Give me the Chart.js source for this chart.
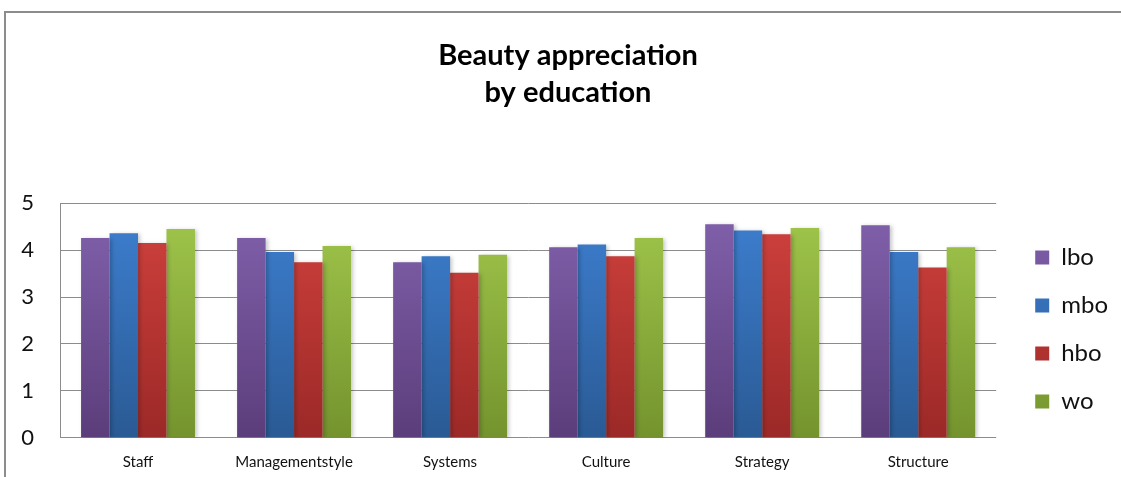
<!DOCTYPE html>
<html>
<head>
<meta charset="utf-8">
<script src="https://cdn.jsdelivr.net/npm/chart.js@4.4.1/dist/chart.umd.min.js"></script>
<style>
  html, body { margin: 0; padding: 0; background: #fff; }
  #frame {
    position: absolute; left: 4px; top: 11px;
    width: 1117px; height: 466px;
    border-top: 2px solid #8c8c8c; border-left: 2px solid #8c8c8c;
  }
  #wrap { width: 1115px; height: 464px; }
</style>
</head>
<body>
<div id="frame"><div id="wrap"><canvas id="myChart"></canvas></div></div>
<script>
const categories = ['Staff', 'Managementstyle', 'Systems', 'Culture', 'Strategy', 'Structure'];
const seriesNames = ['lbo', 'mbo', 'hbo', 'wo'];
const lbo = [4.26, 4.26, 3.74, 4.06, 4.55, 4.53];
const mbo = [4.36, 3.96, 3.87, 4.12, 4.42, 3.96];
const hbo = [4.15, 3.74, 3.52, 3.87, 4.34, 3.63];
const wo  = [4.45, 4.09, 3.90, 4.26, 4.47, 4.06];
const yTicks = [0, 1, 2, 3, 4, 5];

// top / bottom shade for each series
const shades = [
  ['#8262ad', '#5c3d7b'],
  ['#3e80d2', '#2a5a94'],
  ['#d2423e', '#9b2927'],
  ['#a2c84c', '#74932e']
];

function barFill(i) {
  return function (ctx) {
    const area = ctx.chart.chartArea;
    if (!area) return shades[i][0];
    const g = ctx.chart.ctx.createLinearGradient(0, area.top, 0, area.bottom);
    g.addColorStop(0, shades[i][0]);
    g.addColorStop(1, shades[i][1]);
    return g;
  };
}

const values = [lbo, mbo, hbo, wo];
const datasets = seriesNames.map((name, i) => ({
  label: name,
  data: values[i],
  backgroundColor: barFill(i),
  borderWidth: 0,
  categoryPercentage: 0.73,
  barPercentage: 1.0
}));

// soft drop shadow behind the bars
const barShadow = {
  id: 'barShadow',
  beforeDatasetsDraw(chart) {
    const c = chart.ctx;
    c.save();
    c.shadowColor = 'rgba(0,0,0,0.22)';
    c.shadowBlur = 4;
    c.shadowOffsetX = 2;
    c.shadowOffsetY = 1;
  },
  afterDatasetsDraw(chart) {
    chart.ctx.restore();
  }
};

// push the legend block a little lower, next to the middle of the plot
const legendNudge = {
  id: 'legendNudge',
  afterLayout(chart) {
    const lg = chart.legend;
    if (!lg) return;
    lg.top += 9;
    lg.bottom += 9;
  }
};

const config = {
  type: 'bar',
  data: { labels: categories, datasets: datasets },
  plugins: [barShadow, legendNudge],
  options: {
    responsive: true,
    maintainAspectRatio: false,
    animation: false,
    layout: { padding: { left: 12, right: 3, top: 20, bottom: 0 } },
    plugins: {
      title: {
        display: true,
        text: ['Beauty appreciation', 'by education'],
        color: '#000',
        font: { family: 'Lato', size: 29, weight: 'bold', lineHeight: 1.28 },
        padding: { top: 4, bottom: 92 }
      },
      legend: {
        position: 'right',
        fullSize: false,
        labels: {
          color: '#111',
          font: { family: 'Lato', size: 24 },
          boxWidth: 14,
          boxHeight: 14,
          padding: 24
        }
      },
      tooltip: { enabled: false }
    },
    scales: {
      x: {
        grid: { display: false },
        border: { display: false },
        ticks: { color: '#111', font: { family: 'Lato', size: 15 }, padding: 7 },
        afterFit: s => { s.height = 39; }
      },
      y: {
        min: 0,
        max: 5,
        afterBuildTicks: s => { s.ticks = yTicks.map(v => ({ value: v })); },
        grid: { color: '#8c8c8c', lineWidth: 1, drawTicks: false },
        border: { color: '#8c8c8c', width: 1 },
        ticks: { color: '#111', font: { family: 'Lato', size: 22 }, padding: 26 },
        afterFit: s => { s.width = 42; }
      },
      gap: {
        position: 'right',
        display: true,
        grid: { display: false },
        border: { display: false },
        ticks: { display: false },
        afterFit: s => { s.width = 15; }
      }
    }
  }
};

const myChart = new Chart(document.getElementById('myChart').getContext('2d'), config);
</script>
</body>
</html>
